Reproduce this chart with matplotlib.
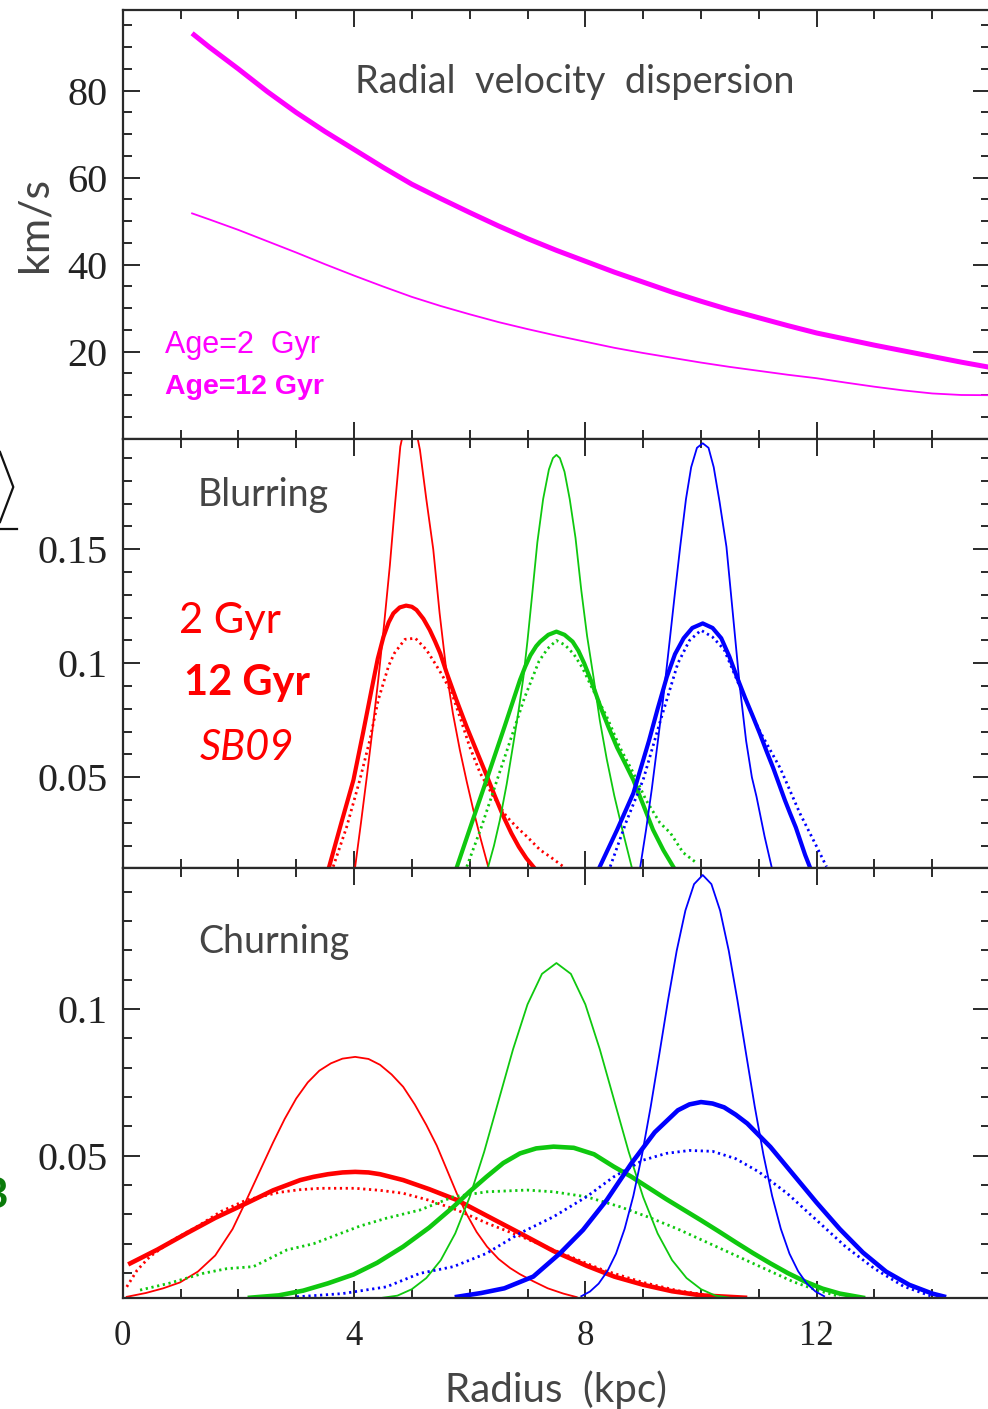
import matplotlib
matplotlib.use('Agg')
import matplotlib.pyplot as plt
from matplotlib.ticker import MultipleLocator, FixedLocator
from matplotlib.lines import Line2D

# ---------------- data ----------------
# Top panel: radial velocity dispersion (km/s) vs radius (kpc)
r_disp = [1.2, 1.5, 2, 2.5, 3, 3.5, 4, 4.5, 5, 5.5, 6, 6.5, 7, 7.5, 8, 8.5, 9, 9.5, 10,
          10.5, 11, 11.5, 12, 12.5, 13, 13.5, 14, 14.5, 15]
disp_age12 = [93.2, 90.0, 85.0, 79.8, 75.0, 70.6, 66.5, 62.4, 58.5, 55.2, 52.0, 48.9, 46.0, 43.3, 40.8,
              38.3, 36.0, 33.7, 31.6, 29.6, 27.8, 26.0, 24.3, 22.9, 21.5, 20.2, 18.9, 17.6, 16.4]
disp_age2 = [51.8, 50.4, 48.0, 45.4, 42.8, 40.1, 37.5, 35.0, 32.6, 30.5, 28.6, 26.8, 25.2, 23.7, 22.3,
             20.9, 19.7, 18.6, 17.5, 16.5, 15.6, 14.7, 13.9, 12.9, 11.95, 11.1, 10.4, 10.05, 10.0]

# Blurring panel (2 Gyr thin, 12 Gyr thick, SB09 dotted)
bl_red_2_x = [4.02, 4.12, 4.22, 4.32, 4.42, 4.52, 4.62, 4.71, 4.80, 4.97, 5.14, 5.25, 5.37, 5.48,
              5.60, 5.71, 5.83, 5.95, 6.06, 6.19, 6.32]
bl_red_2_y = [0.0108, 0.0300, 0.0500, 0.0710, 0.0930, 0.1170, 0.1430, 0.1700, 0.1950, 0.2150, 0.1936,
              0.1720, 0.1500, 0.1220, 0.0960, 0.0780, 0.0620, 0.0480, 0.0360, 0.0230, 0.0108]
bl_red_12_x = [3.57, 3.78, 3.99, 4.16, 4.30, 4.41, 4.51, 4.60, 4.68, 4.79, 4.90, 5.00, 5.08, 5.20,
               5.31, 5.40, 5.49, 5.60, 5.77, 5.95, 6.12, 6.29, 6.44, 6.58, 6.72, 6.85, 6.98, 7.10]
bl_red_12_y = [0.0108, 0.0300, 0.0488, 0.0700, 0.0880, 0.1020, 0.1117, 0.1180, 0.1219, 0.1245, 0.1253,
               0.1248, 0.1234, 0.1195, 0.1146, 0.1097, 0.1044, 0.0960, 0.0840, 0.0720, 0.0615, 0.0510,
               0.0415, 0.0330, 0.0255, 0.0195, 0.0145, 0.0108]
bl_red_sb_x = [3.64, 3.87, 4.10, 4.27, 4.42, 4.60, 4.70, 4.88, 5.06, 5.25, 5.40, 5.52, 5.69, 5.85,
               6.00, 6.18, 6.40, 6.64, 6.82, 6.99, 7.22, 7.40, 7.62]
bl_red_sb_y = [0.0108, 0.0280, 0.0488, 0.0660, 0.0840, 0.0990, 0.1045, 0.1105, 0.1110, 0.1060, 0.1000,
               0.0950, 0.0870, 0.0750, 0.0634, 0.0519, 0.0420, 0.0327, 0.0280, 0.0240, 0.0181, 0.0150, 0.0108]

bl_grn_2_x = [6.32, 6.42, 6.52, 6.64, 6.75, 6.85, 6.93, 7.00, 7.08, 7.17, 7.27, 7.37, 7.44, 7.50,
              7.56, 7.64, 7.73, 7.83, 7.93, 8.03, 8.14, 8.25, 8.37, 8.50, 8.65, 8.80]
bl_grn_2_y = [0.0108, 0.0200, 0.0310, 0.0470, 0.0640, 0.0800, 0.0941, 0.1100, 0.1300, 0.1530, 0.1720,
              0.1850, 0.1900, 0.1914, 0.1900, 0.1840, 0.1720, 0.1550, 0.1320, 0.1120, 0.0941, 0.0750,
              0.0580, 0.0420, 0.0260, 0.0108]
bl_grn_12_x = [5.78, 6.05, 6.32, 6.60, 6.87, 6.96, 7.05, 7.15, 7.22, 7.36, 7.50, 7.64, 7.78, 7.88,
               7.98, 8.12, 8.26, 8.40, 8.55, 8.69, 8.83, 9.00, 9.17, 9.35, 9.52]
bl_grn_12_y = [0.0108, 0.0310, 0.0510, 0.0720, 0.0927, 0.0985, 0.1035, 0.1075, 0.1095, 0.1125, 0.1139,
               0.1125, 0.1095, 0.1055, 0.1000, 0.0910, 0.0810, 0.0720, 0.0630, 0.0560, 0.0488, 0.0380,
               0.0270, 0.0180, 0.0108]
bl_grn_sb_x = [5.95, 6.20, 6.45, 6.70, 6.95, 7.20, 7.35, 7.50, 7.65, 7.80, 7.95, 8.10, 8.37, 8.60,
               8.83, 9.05, 9.29, 9.47, 9.69, 9.92]
bl_grn_sb_y = [0.0108, 0.0280, 0.0470, 0.0660, 0.0850, 0.1010, 0.1065, 0.1100, 0.1080, 0.1040, 0.0980,
               0.0900, 0.0766, 0.0630, 0.0519, 0.0400, 0.0300, 0.0256, 0.0170, 0.0125]

bl_blu_2_x = [8.95, 9.05, 9.15, 9.25, 9.35, 9.45, 9.55, 9.64, 9.74, 9.83, 9.93, 10.03, 10.13, 10.22,
              10.32, 10.44, 10.55, 10.67, 10.78, 10.88, 10.96, 11.10, 11.22]
bl_blu_2_y = [0.0108, 0.0270, 0.0450, 0.0650, 0.0854, 0.1080, 0.1310, 0.1511, 0.1720, 0.1860, 0.1945,
              0.1965, 0.1945, 0.1860, 0.1710, 0.1511, 0.1220, 0.0900, 0.0660, 0.0500, 0.0415, 0.0240, 0.0108]
bl_blu_12_x = [8.25, 8.55, 8.83, 9.10, 9.25, 9.41, 9.55, 9.70, 9.85, 10.03, 10.20, 10.35, 10.49,
               10.62, 10.76, 10.90, 11.02, 11.14, 11.25, 11.35, 11.45, 11.54, 11.64, 11.72, 11.80, 11.88]
bl_blu_12_y = [0.0108, 0.0270, 0.0430, 0.0660, 0.0800, 0.0941, 0.1040, 0.1110, 0.1155, 0.1175, 0.1155,
               0.1110, 0.1030, 0.0941, 0.0850, 0.0765, 0.0690, 0.0610, 0.0540, 0.0470, 0.0400, 0.0342,
               0.0280, 0.0220, 0.0160, 0.0108]
bl_blu_sb_x = [8.43, 8.70, 9.00, 9.30, 9.60, 9.80, 10.00, 10.20, 10.40, 10.70, 11.00, 11.37, 11.71,
               12.00, 12.17]
bl_blu_sb_y = [0.0108, 0.0300, 0.0489, 0.0750, 0.1000, 0.1100, 0.1145, 0.1115, 0.1060, 0.0880, 0.0710,
               0.0540, 0.0342, 0.0196, 0.0108]

# Churning panel
ch_red_2_x = [0.07, 0.40, 0.70, 0.99, 1.30, 1.60, 1.90, 2.14, 2.40, 2.60, 2.80, 3.00, 3.20, 3.40, 3.60,
              3.80, 4.02, 4.25, 4.45, 4.65, 4.85, 5.05, 5.25, 5.43, 5.60, 5.78, 5.95, 6.12, 6.30, 6.50,
              6.70, 6.87, 7.10, 7.35, 7.62, 7.85]
ch_red_2_y = [0.0019, 0.0032, 0.0048, 0.0068, 0.0105, 0.0160, 0.0250, 0.0349, 0.0460, 0.0545, 0.0625,
              0.0695, 0.0750, 0.0790, 0.0815, 0.0831, 0.0837, 0.0830, 0.0810, 0.0777, 0.0735, 0.0675,
              0.0605, 0.0535, 0.0455, 0.0370, 0.0300, 0.0240, 0.0190, 0.0148, 0.0117, 0.0096, 0.0072,
              0.0048, 0.0030, 0.0018]
ch_red_12_x = [0.13, 0.60, 1.11, 1.60, 2.14, 2.60, 3.07, 3.30, 3.55, 3.80, 4.02, 4.25, 4.45, 4.85,
               5.30, 5.78, 6.30, 6.87, 7.45, 8.02, 8.50, 9.00, 9.50, 10.00, 10.76]
ch_red_12_y = [0.0133, 0.0180, 0.0236, 0.0288, 0.0338, 0.0382, 0.0417, 0.0428, 0.0437, 0.0443, 0.0445,
               0.0443, 0.0437, 0.0417, 0.0386, 0.0349, 0.0295, 0.0236, 0.0175, 0.0125, 0.0088, 0.0060,
               0.0038, 0.0024, 0.0016]
ch_red_sb_x = [0.07, 0.25, 0.47, 0.87, 1.30, 1.70, 2.14, 2.70, 3.05, 3.41, 4.02, 4.45, 4.85, 5.30,
               5.78, 6.30, 6.87, 7.50, 8.31, 9.00, 9.60, 10.20, 10.60]
ch_red_sb_y = [0.0053, 0.0110, 0.0156, 0.0213, 0.0260, 0.0310, 0.0349, 0.0375, 0.0384, 0.0389, 0.0389,
               0.0382, 0.0372, 0.0348, 0.0315, 0.0270, 0.0226, 0.0175, 0.0110, 0.0068, 0.0040, 0.0022, 0.0016]

ch_grn_2_x = [4.50, 4.75, 5.00, 5.25, 5.50, 5.75, 6.00, 6.25, 6.50, 6.75, 7.00, 7.25, 7.50, 7.75,
              8.00, 8.25, 8.50, 8.75, 9.00, 9.25, 9.50, 9.75, 10.00, 10.25, 10.50]
ch_grn_2_y = [0.0016, 0.0023, 0.0045, 0.0083, 0.0144, 0.0235, 0.0359, 0.0513, 0.0688, 0.0863, 0.1016,
              0.1120, 0.1157, 0.1120, 0.1016, 0.0863, 0.0688, 0.0513, 0.0359, 0.0235, 0.0144, 0.0083,
              0.0045, 0.0023, 0.0016]
ch_grn_12_x = [2.20, 2.70, 3.12, 3.55, 3.99, 4.40, 4.85, 5.30, 5.72, 6.00, 6.29, 6.58, 6.87, 7.15,
               7.45, 7.80, 8.15, 8.49, 8.80, 9.10, 9.40, 9.70, 10.00, 10.30, 10.60, 10.90, 11.20,
               11.50, 11.80, 12.10, 12.40, 12.80]
ch_grn_12_y = [0.0016, 0.0024, 0.0040, 0.0065, 0.0095, 0.0135, 0.0190, 0.0255, 0.0326, 0.0378, 0.0428,
               0.0475, 0.0508, 0.0525, 0.0531, 0.0527, 0.0505, 0.0463, 0.0428, 0.0390, 0.0352, 0.0316,
               0.0280, 0.0243, 0.0205, 0.0168, 0.0133, 0.0100, 0.0071, 0.0047, 0.0030, 0.0016]
ch_grn_sb_x = [0.30, 0.80, 1.39, 1.80, 2.26, 2.84, 3.30, 3.70, 4.10, 4.56, 5.14, 5.72, 6.29, 6.99,
               7.45, 8.02, 8.60, 9.10, 9.60, 10.10, 10.60, 11.10, 11.60, 12.00, 12.40]
ch_grn_sb_y = [0.0042, 0.0065, 0.0099, 0.0115, 0.0122, 0.0179, 0.0200, 0.0230, 0.0260, 0.0287, 0.0315,
               0.0360, 0.0377, 0.0383, 0.0377, 0.0360, 0.0326, 0.0290, 0.0250, 0.0205, 0.0160, 0.0115,
               0.0070, 0.0042, 0.0020]

ch_blu_2_x = [7.93, 8.08, 8.23, 8.38, 8.53, 8.68, 8.83, 8.98, 9.13, 9.28, 9.43, 9.58, 9.73, 9.88,
              10.03, 10.18, 10.33, 10.48, 10.63, 10.78, 10.93, 11.08, 11.23, 11.38, 11.53, 11.68,
              11.83, 11.98, 12.13]
ch_blu_2_y = [0.0021, 0.0037, 0.0064, 0.0106, 0.0166, 0.0251, 0.0363, 0.0503, 0.0667, 0.0847, 0.1030,
              0.1199, 0.1336, 0.1426, 0.1457, 0.1426, 0.1336, 0.1199, 0.1030, 0.0847, 0.0667, 0.0503,
              0.0363, 0.0251, 0.0166, 0.0106, 0.0064, 0.0037, 0.0021]
ch_blu_12_x = [5.78, 6.20, 6.60, 7.10, 7.56, 7.96, 8.37, 8.80, 9.20, 9.60, 9.80, 10.00, 10.20, 10.40,
               10.60, 10.80, 11.20, 11.60, 12.00, 12.40, 12.80, 13.20, 13.60, 14.00, 14.20]
ch_blu_12_y = [0.0019, 0.0032, 0.0048, 0.0088, 0.0167, 0.0247, 0.0349, 0.0475, 0.0580, 0.0655, 0.0675,
               0.0683, 0.0678, 0.0665, 0.0640, 0.0610, 0.0530, 0.0435, 0.0340, 0.0250, 0.0170, 0.0105,
               0.0060, 0.0030, 0.0020]
ch_blu_sb_x = [3.01, 3.80, 4.56, 5.14, 5.72, 6.29, 6.87, 7.45, 8.02, 8.49, 9.00, 9.40, 9.80, 10.20,
               10.60, 11.00, 11.50, 12.00, 12.50, 13.00, 13.50, 14.00]
ch_blu_sb_y = [0.0019, 0.0030, 0.0053, 0.0099, 0.0122, 0.0167, 0.0236, 0.0292, 0.0360, 0.0428, 0.0485,
               0.0508, 0.0518, 0.0515, 0.0490, 0.0445, 0.0370, 0.0280, 0.0190, 0.0115, 0.0055, 0.0020]

# tick labels
x_major = [0, 4, 8, 12]
x_major_labels = ['0', '4', '8', '12']
y1_major = [20, 40, 60, 80]
y2_major = [0.05, 0.1, 0.15]
y3_major = [0.05, 0.1]

# ---------------- figure ----------------
W, H = 988, 1409
fig = plt.figure(figsize=(W / 100, H / 100), dpi=100)


def fx(x):
    return x / W


def fy(y):
    return 1 - y / H


L = 122.7
R = 122.7 + 15 * 57.83
T1, B1, B2, B3 = 9.5, 438.7, 867.7, 1297.7
ax1 = fig.add_axes([fx(L), fy(B1), (R - L) / W, (B1 - T1) / H])
ax2 = fig.add_axes([fx(L), fy(B2), (R - L) / W, (B2 - B1) / H])
ax3 = fig.add_axes([fx(L), fy(B3), (R - L) / W, (B3 - B2) / H])

TICKFONT = 'Liberation Serif'
AXC = '#2a2a2a'


def style(ax, ymajor, yminor, ylim, ylabels):
    ax.set_xlim(0, 15)
    ax.set_ylim(*ylim)
    ax.xaxis.set_major_locator(FixedLocator(x_major))
    ax.xaxis.set_minor_locator(MultipleLocator(1))
    ax.set_yticks(ymajor, labels=ylabels)
    ax.yaxis.set_minor_locator(MultipleLocator(yminor))
    ax.tick_params(which='both', direction='in', top=True, right=True,
                   color=AXC, width=1.4, labelcolor='#222222')
    ax.tick_params(which='major', length=12.5)
    ax.tick_params(which='minor', length=6.5)
    ax.tick_params(axis='y', which='major', labelsize=29, pad=11)
    for s in ax.spines.values():
        s.set_linewidth(1.6)
        s.set_color(AXC)
    for lbl in ax.get_yticklabels():
        lbl.set_fontfamily(TICKFONT)


style(ax1, y1_major, 5, (0, 98.67), [str(v) for v in y1_major])
style(ax2, y2_major, 0.01, (0.01035, 0.1985), ['0.05', '0.1', '0.15'])
style(ax3, y3_major, 0.01, (0.0016, 0.1482), ['0.05', '0.1'])
ax1.tick_params(axis='x', labelbottom=False)
ax2.tick_params(axis='x', labelbottom=False)
ax3.set_xticks(x_major, labels=x_major_labels)
ax3.tick_params(axis='x', which='major', labelsize=25, pad=16)
for lbl in ax3.get_xticklabels():
    lbl.set_fontfamily(TICKFONT)

MAG = '#ff00ff'
RED = '#ff0000'
GRN = '#0fc80f'
BLU = '#0000ff'
DOT = (0, (0.8, 1.3))

# top panel
ax1.plot(r_disp, disp_age12, color=MAG, lw=3.6, solid_capstyle='butt', solid_joinstyle='round')
ax1.plot(r_disp, disp_age2, color=MAG, lw=1.3, solid_joinstyle='round')


def draw(ax, col, thin, thick, sb, lw_thick):
    ax.plot(sb[0], sb[1], color=col, lw=2.0, ls=DOT)
    ax.plot(thin[0], thin[1], color=col, lw=1.3, solid_joinstyle='round')
    ax.plot(thick[0], thick[1], color=col, lw=lw_thick, solid_joinstyle='round')


draw(ax2, RED, (bl_red_2_x, bl_red_2_y), (bl_red_12_x, bl_red_12_y), (bl_red_sb_x, bl_red_sb_y), 3.0)
draw(ax2, GRN, (bl_grn_2_x, bl_grn_2_y), (bl_grn_12_x, bl_grn_12_y), (bl_grn_sb_x, bl_grn_sb_y), 3.0)
draw(ax2, BLU, (bl_blu_2_x, bl_blu_2_y), (bl_blu_12_x, bl_blu_12_y), (bl_blu_sb_x, bl_blu_sb_y), 3.0)
draw(ax3, RED, (ch_red_2_x, ch_red_2_y), (ch_red_12_x, ch_red_12_y), (ch_red_sb_x, ch_red_sb_y), 3.3)
draw(ax3, GRN, (ch_grn_2_x, ch_grn_2_y), (ch_grn_12_x, ch_grn_12_y), (ch_grn_sb_x, ch_grn_sb_y), 3.3)
draw(ax3, BLU, (ch_blu_2_x, ch_blu_2_y), (ch_blu_12_x, ch_blu_12_y), (ch_blu_sb_x, ch_blu_sb_y), 3.3)

# ---------------- texts ----------------
LIGHT = dict(family=['Lato', 'DejaVu Sans'], weight='normal', color='#454545')
fig.text(fx(355), fy(93), 'Radial  velocity  dispersion', fontsize=27.3, ha='left', va='baseline', **LIGHT)
fig.text(fx(198), fy(506), 'Blurring', fontsize=27, ha='left', va='baseline', **LIGHT)
fig.text(fx(198), fy(953), 'Churning', fontsize=27, ha='left', va='baseline', **LIGHT)
fig.text(fx(445), fy(1402), 'Radius  (kpc)', fontsize=29, ha='left', va='baseline', **LIGHT)
fig.text(fx(34), fy(225), 'km/s', fontsize=31, ha='center', va='center', rotation=90, **LIGHT)

fig.text(fx(165), fy(353), 'Age=2  Gyr', fontsize=22, ha='left', va='baseline',
         family=['Liberation Sans', 'DejaVu Sans'], color=MAG)
fig.text(fx(165), fy(394), 'Age=12 Gyr', fontsize=20.5, ha='left', va='baseline',
         family=['Liberation Sans', 'DejaVu Sans'], weight='bold', color=MAG)

SANS = ['Lato', 'DejaVu Sans']
fig.text(fx(179), fy(633), '2 Gyr', fontsize=30, ha='left', va='baseline', family=SANS, color=RED)
fig.text(fx(184), fy(695), '12 Gyr', fontsize=30, ha='left', va='baseline', family=SANS,
         weight='bold', color=RED)
fig.text(fx(200), fy(760), 'SB09', fontsize=30, ha='left', va='baseline', family=SANS,
         style='italic', color=RED)

# fragments of neighbouring artwork cut at the left edge
fig.add_artist(Line2D([fx(0), fx(13.3), fx(0)], [fy(452), fy(487), fy(522)], color='#111111', lw=1.6))
fig.add_artist(Line2D([fx(0), fx(17)], [fy(528.5), fy(528.5)], color='#111111', lw=1.6))
fig.text(fx(8), fy(1196), 'B', fontsize=30, ha='right', va='center', family=SANS,
         weight='bold', color='#0a7a0a')

fig.savefig('out.png', dpi=100)
